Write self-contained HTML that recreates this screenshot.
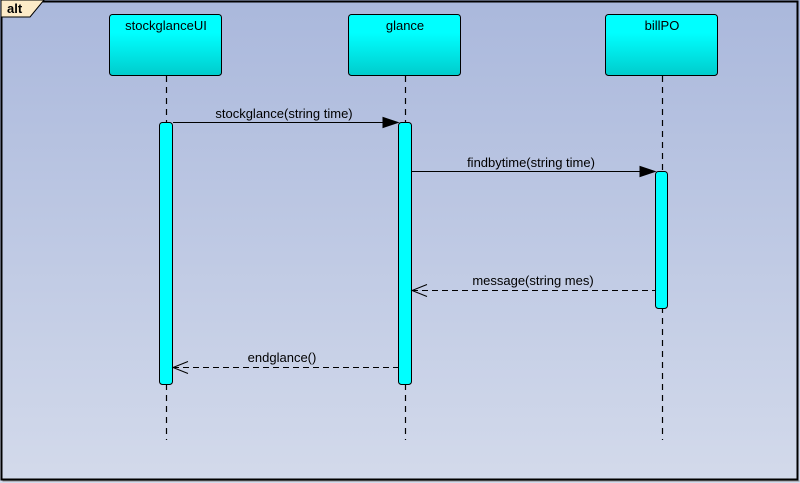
<!DOCTYPE html>
<html><head><style>
body{margin:0;width:800px;height:483px;overflow:hidden;background:linear-gradient(#aab8dc,#d3daeb);font-family:"Liberation Sans",sans-serif;}
</style></head><body>
<svg width="800" height="483" xmlns="http://www.w3.org/2000/svg" style="position:absolute;left:0;top:0">
<defs>
<linearGradient id="g" x1="0" y1="0" x2="0" y2="1"><stop offset="0.3" stop-color="#00ffff"/><stop offset="1" stop-color="#00cccc"/></linearGradient>
</defs>
<rect x="1.5" y="1.5" width="796" height="478" fill="none" stroke="#000" stroke-width="2"/>
<rect x="2.5" y="480.5" width="797" height="1" fill="#888"/>
<path d="M1,0 H44 L30,17 H1 Z" fill="#fdebc8" stroke="#000" stroke-width="1"/>
<text x="7" y="13" font-size="13" font-weight="bold">alt</text>
<g stroke="#000" stroke-dasharray="6,5" stroke-width="1.2">
<line x1="166.5" y1="76" x2="166.5" y2="440"/>
<line x1="405.5" y1="76" x2="405.5" y2="440"/>
<line x1="662.5" y1="76" x2="662.5" y2="440"/>
</g>
<g fill="url(#g)" stroke="#000">
<rect x="109.5" y="14.5" width="112" height="61" rx="3"/>
<rect x="348.5" y="14.5" width="112" height="61" rx="3"/>
<rect x="605.5" y="14.5" width="112" height="61" rx="3"/>
</g>
<g font-size="13" text-anchor="middle">
<text x="166" y="30">stockglanceUI</text>
<text x="405" y="30">glance</text>
<text x="662" y="30">billPO</text>
</g>
<g fill="#00ffff" stroke="#000">
<rect x="159.5" y="122.5" width="13" height="262" rx="3"/>
<rect x="398.5" y="122.5" width="13" height="262" rx="3"/>
<rect x="655.5" y="171.5" width="12" height="137" rx="3"/>
</g>
<g stroke="#000" stroke-width="1">
<line x1="173" y1="122.5" x2="385" y2="122.5"/>
<polygon points="398,122.5 383,117.5 383,127.5" fill="#000"/>
<line x1="412" y1="171.5" x2="642" y2="171.5"/>
<polygon points="655,171.5 640,166.5 640,176.5" fill="#000"/>
<line x1="412" y1="290.5" x2="655" y2="290.5" stroke-dasharray="6,4"/>
<polyline points="427,284.5 412,290.5 427,296.5" fill="none"/>
<line x1="173" y1="367.5" x2="398" y2="367.5" stroke-dasharray="6,4"/>
<polyline points="188,361.5 173,367.5 188,373.5" fill="none"/>
</g>
<g font-size="13" text-anchor="middle">
<text x="284" y="118">stockglance(string time)</text>
<text x="531" y="167">findbytime(string time)</text>
<text x="533" y="285">message(string mes)</text>
<text x="282" y="362">endglance()</text>
</g>
</svg>
</body></html>
